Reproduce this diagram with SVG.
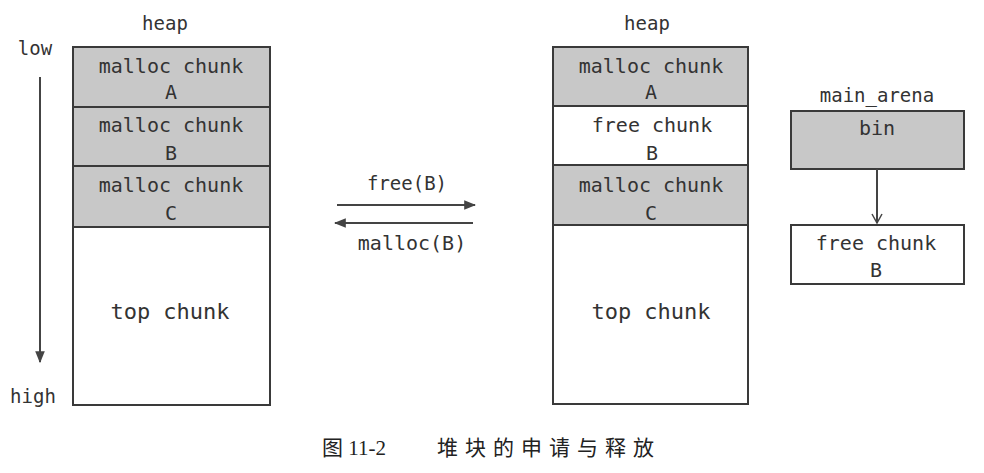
<svg xmlns="http://www.w3.org/2000/svg" width="984" height="473" viewBox="0 0 984 473">
<style>
text{font-family:"DejaVu Sans Mono","Liberation Mono",monospace;fill:#333;text-anchor:middle}
.t{font-size:20px}
.s{font-size:19px}
.big{font-size:22px}
.g{fill:#c8c8c8;stroke:#3a3a3a;stroke-width:2}
.w{fill:#fff;stroke:#3a3a3a;stroke-width:2}
.ln{stroke:#444;stroke-width:2;fill:none}
.cap{font-family:"Liberation Serif","Noto Sans CJK SC",serif;font-size:21px;text-anchor:start;fill:#222}
</style>
<defs>
<marker id="tri" viewBox="0 0 10 10" refX="9" refY="5" markerWidth="6" markerHeight="6" orient="auto" markerUnits="strokeWidth">
<path d="M0,1 L10,5 L0,9 z" fill="#444"/>
</marker>
<marker id="vee" viewBox="0 0 12 12" refX="10" refY="6" markerWidth="6" markerHeight="6" orient="auto" markerUnits="strokeWidth">
<path d="M1,1 L10,6 L1,11" fill="none" stroke="#444" stroke-width="1.5"/>
</marker>
</defs>

<g id="left-labels">
<text class="s" x="165" y="30">heap</text>
<text class="s" x="35" y="55">low</text>
<text class="s" x="33" y="403">high</text>
</g>

<g id="left-A"><rect class="g" x="73" y="47" width="197" height="60"/><text class="t" x="171" y="73">malloc chunk</text><text class="t" x="171" y="99">A</text></g>
<g id="left-B"><rect class="g" x="73" y="107" width="197" height="59"/><text class="t" x="171" y="132">malloc chunk</text><text class="t" x="171" y="160">B</text></g>
<g id="left-C"><rect class="g" x="73" y="166" width="197" height="61"/><text class="t" x="171" y="192">malloc chunk</text><text class="t" x="171" y="220">C</text></g>
<g id="left-top"><rect class="w" x="73" y="227" width="197" height="178"/><text class="big" x="170" y="319">top chunk</text></g>

<g id="right-labels">
<text class="s" x="647" y="30">heap</text>
<text class="s" x="877" y="102">main_arena</text>
</g>

<g id="right-A"><rect class="g" x="553" y="47" width="195" height="59"/><text class="t" x="651" y="73">malloc chunk</text><text class="t" x="651" y="99">A</text></g>
<g id="right-B"><rect class="w" x="553" y="106" width="195" height="59"/><text class="t" x="652" y="132">free chunk</text><text class="t" x="652" y="160">B</text></g>
<g id="right-C"><rect class="g" x="553" y="165" width="195" height="60"/><text class="t" x="651" y="192">malloc chunk</text><text class="t" x="651" y="220">C</text></g>
<g id="right-top"><rect class="w" x="553" y="225" width="195" height="179"/><text class="big" x="651" y="319">top chunk</text></g>

<g id="bin"><rect class="g" x="791" y="111" width="173" height="58"/><text class="t" x="877" y="135">bin</text></g>
<g id="free-B"><rect class="w" x="791" y="225" width="173" height="59"/><text class="t" x="876" y="250">free chunk</text><text class="t" x="876" y="277">B</text></g>

<g id="connectors">
<line class="ln" x1="40" y1="77" x2="40" y2="362" marker-end="url(#tri)"/>
<line class="ln" x1="337" y1="205" x2="475" y2="205" marker-end="url(#tri)"/>
<line class="ln" x1="473" y1="223" x2="335" y2="223" marker-end="url(#tri)"/>
<line class="ln" x1="877" y1="169" x2="877" y2="223" marker-end="url(#vee)"/>
<text class="s" x="407" y="190">free(B)</text>
<text class="t" x="412" y="250">malloc(B)</text>
</g>

<g id="caption">
<text class="cap" y="455"><tspan x="322">图 11-2</tspan><tspan x="437" letter-spacing="7">堆块的申请与释放</tspan></text>
</g>
</svg>
